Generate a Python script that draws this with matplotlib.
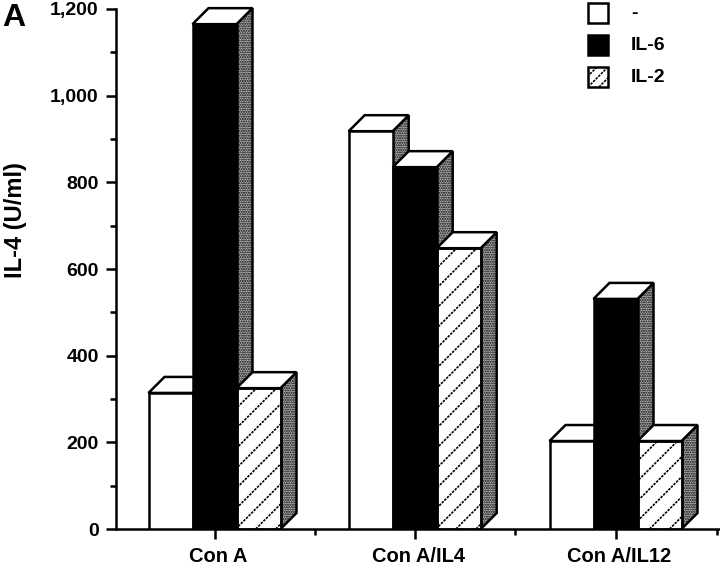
import numpy as np
import matplotlib
matplotlib.use("Agg")
import matplotlib.pyplot as plt
from matplotlib.patches import Polygon, Rectangle
from matplotlib.transforms import ScaledTranslation

plt.rcParams['font.family'] = ['Liberation Sans', 'DejaVu Sans']

categories = ['Con A', 'Con A/IL4', 'Con A/IL12']
series_names = ['-', 'IL-6', 'IL-2']
plain = [314, 918, 203]
il6 = [1165, 835, 531]
il2 = [325, 648, 203]
y_ticks = [0, 200, 400, 600, 800, 1000, 1200]
y_tick_labels = ['0', '200', '400', '600', '800', '1,000', '1,200']

W, H = 720, 566
fig = plt.figure(figsize=(W / 100, H / 100), dpi=100)
left, right, bottom, top = 116, 720, 529, 9
ax = fig.add_axes([left / W, 1 - bottom / H, (right - left) / W, (bottom - top) / H])
ax.set_ylim(0, 1200)
# one x unit is one pixel wide here
ax.set_xlim(left, right)
ax.patch.set_visible(False)

centers = [214.5, 414.7, 615.5]
between = [314.6, 515.1, 717]
bar_w = 44
dx = 16
yscale = 1200 / (bottom - top)
dy = 16 * yscale
lw = 1.8


def add_stripes(patch, x, w, h, target):
    # thin dashed 45 degree lines, about 20 px apart, clipped to the box
    for off in np.arange(-h / yscale, w, 20):
        line, = target.plot([x + off, x + off + h / yscale], [0, h], color='black', lw=1.2,
                            ls=(0, (1.5, 0.7)), zorder=3.1)
        line.set_clip_path(patch)


def bar3d(x, h, face, striped=False):
    # side face, then top, then front
    ax.add_patch(Polygon([(x + bar_w, 0), (x + bar_w + dx, dy), (x + bar_w + dx, h + dy), (x + bar_w, h)],
                         facecolor='#b4b4b4', edgecolor='black', lw=lw, hatch='.......', zorder=3, clip_on=False))
    ax.add_patch(Polygon([(x, h), (x + dx, h + dy), (x + bar_w + dx, h + dy), (x + bar_w, h)],
                         facecolor='white', edgecolor='black', lw=lw, zorder=3, clip_on=False))
    front = Rectangle((x, 0), bar_w, h, facecolor=face, edgecolor='black', lw=lw, zorder=3)
    ax.add_patch(front)
    if striped:
        add_stripes(front, x, bar_w, h, ax)
        # outline again over the stripes
        ax.add_patch(Rectangle((x, 0), bar_w, h, facecolor='none', edgecolor='black', lw=lw, zorder=3.2))


for c, a, b, d in zip(centers, plain, il6, il2):
    x0 = c - 1.5 * bar_w
    bar3d(x0, a, 'white')
    bar3d(x0 + bar_w, b, 'black')
    bar3d(x0 + 2 * bar_w, d, 'white', striped=True)

ax.set_xlim(left, right)
ax.set_ylim(0, 1200)

for s in ['top', 'right']:
    ax.spines[s].set_visible(False)
for s in ['left', 'bottom']:
    ax.spines[s].set_linewidth(lw)

ax.set_yticks(y_ticks)
ax.set_yticklabels(y_tick_labels, fontsize=14, fontweight='bold')
ax.set_yticks(np.arange(100, 1200, 200), minor=True)
ax.tick_params(axis='y', which='major', length=7, width=lw, pad=5.5)
ax.tick_params(axis='y', which='minor', length=4, width=lw)
ax.set_xticks(centers)
ax.set_xticklabels(categories, fontsize=14.5, fontweight='bold')
ax.set_xticks(between, minor=True)
ax.tick_params(axis='x', which='major', length=7, width=lw, pad=6)
ax.tick_params(axis='x', which='minor', length=4, width=lw)
nudge = ScaledTranslation(2.5 / 72, 0, fig.dpi_scale_trans)
for lab in ax.get_xticklabels():
    lab.set_transform(lab.get_transform() + nudge)
ax.set_ylabel('IL-4 (U/ml)', fontsize=17, fontweight='bold')
ax.yaxis.set_label_coords(-0.147, 0.595)

fig.text(2 / W, 1 - 26 / H, 'A', fontsize=23, fontweight='bold', va='baseline')

# legend drawn in figure pixels
legend_y = [13, 45, 77]
faces = ['white', 'black', 'white']
for i, (yy, f, name) in enumerate(zip(legend_y, faces, series_names)):
    box = Rectangle((588 / W, 1 - (yy + 10) / H), 20 / W, 20 / H, transform=fig.transFigure,
                    facecolor=f, edgecolor='black', lw=lw)
    fig.add_artist(box)
    if i == 2:
        for off in [-11, 0, 11]:
            st = plt.Line2D([(588 + off) / W, (608 + off) / W], [1 - (yy + 10) / H, 1 - (yy - 10) / H],
                            transform=fig.transFigure, color='black', lw=1.2, ls=(0, (1.5, 0.7)))
            fig.add_artist(st)
            st.set_clip_path(box)
    fig.text(631 / W, 1 - yy / H, name, fontsize=14, fontweight='bold', va='center')

fig.savefig('out.png', dpi=100)
